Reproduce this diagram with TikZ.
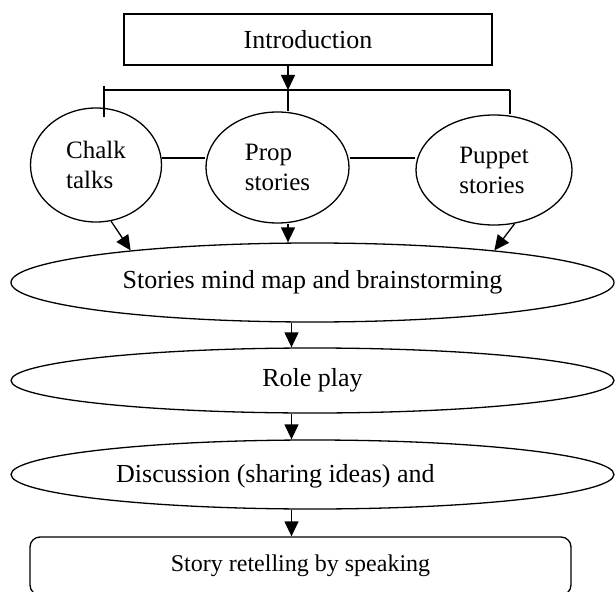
\documentclass[tikz,border=0pt]{standalone}
\usepackage{fontspec}
\setmainfont{Liberation Serif}
\usetikzlibrary{shapes.geometric,arrows.meta}
\begin{document}
\begin{tikzpicture}[x=1pt,y=1pt,
  every node/.style={font=\fontsize{26}{30}\selectfont},
  ln/.style={line width=1.3pt},
  arr/.style={ln,-{Triangle[width=14pt,length=15pt]}},
  oval/.style={draw,ln,ellipse,inner sep=0pt},
  small/.style={font=\fontsize{25}{30}\selectfont,align=left}
]
\useasboundingbox (0,0) rectangle (615,-591);

% nodes
\node[draw,ln,rectangle,minimum width=368pt,minimum height=51pt,inner sep=0pt] (intro) at (308,-39.5) {Introduction};

\node[oval,small,minimum width=131pt,minimum height=114pt] (chalk) at (96,-165) {Chalk\\talks};
\node[oval,small,minimum width=143pt,minimum height=111pt] (prop) at (277.5,-167.5) {Prop\\stories};
\node[oval,small,minimum width=156pt,minimum height=110pt] (puppet) at (494,-170) {Puppet\\stories};

\node[oval,minimum width=603pt,minimum height=79pt] (stories) at (312.5,-282.5) {Stories mind map and brainstorming};
\node[oval,minimum width=603pt,minimum height=65pt] (role) at (312.5,-380.5) {Role play};
\node[oval,minimum width=603pt,minimum height=69pt] (disc) at (312.5,-474.5) {};
\node[anchor=base west,inner sep=0pt] (disctext) at (116,-482) {Discussion (sharing ideas) and};

\begin{scope}
\clip (0,0) rectangle (615,-591);
\node[draw,ln,rounded corners=10pt,minimum width=541pt,minimum height=58pt,inner sep=0pt,font=\fontsize{24}{28}\selectfont] (story) at (300.5,-566) {Story retelling by speaking};
\end{scope}

% coordinates
\coordinate (barmid) at (288,-90);
\coordinate (barL) at (104,-90);
\coordinate (barR) at (510,-90);
\coordinate (tickLtop) at (104,-86);
\coordinate (tickLbot) at (104,-117);
\coordinate (lineY) at (0,-158);
\coordinate (axis) at (291.5,0);

% connectors
\draw[arr] (intro.south -| barmid) -- (barmid);
\draw[ln] (barL) -- (barR);
\draw[ln] (tickLtop) -- (tickLbot);
\draw[ln] (barmid) -- (barmid |- prop.north);
\draw[ln] (barR) -- (barR |- puppet.north);
\draw[ln] (chalk.east |- lineY) -- (prop.west |- lineY);
\draw[ln] (prop.east |- lineY) -- (puppet.west |- lineY);

\draw[arr] (chalk.-75) -- (stories.170);
\draw[arr] (prop.south -| barmid) -- (stories.north -| barmid);
\draw[arr] (puppet.-69) -- (stories.10);

\draw[arr] (stories.south -| axis) -- (role.north -| axis);
\draw[arr] (role.south -| axis) -- (disc.north -| axis);
\draw[arr] (disc.south -| axis) -- (story.north -| axis);
\end{tikzpicture}
\end{document}
